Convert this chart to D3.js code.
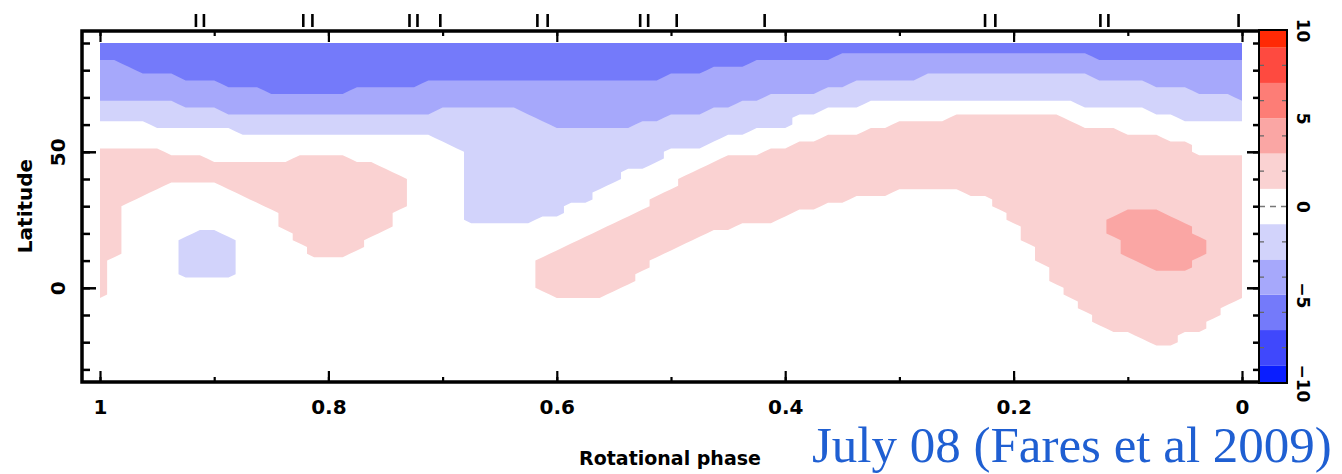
<!DOCTYPE html>
<html>
<head>
<meta charset="utf-8">
<script src="https://cdn.jsdelivr.net/npm/d3@7"></script>
<style>
  html, body { margin: 0; padding: 0; background: #fff; }
  svg { display: block; }
</style>
</head>
<body>
<script>
// grid columns (rotational phase) and rows (latitude)
var phases = [1, 0.9875, 0.975, 0.9625, 0.95, 0.9375, 0.925, 0.9125, 0.9, 0.8875, 0.875, 0.8625,
  0.85, 0.8375, 0.825, 0.8125, 0.8, 0.7875, 0.775, 0.7625, 0.75, 0.7375, 0.725, 0.7125, 0.7,
  0.6875, 0.675, 0.6625, 0.65, 0.6375, 0.625, 0.6125, 0.6, 0.5875, 0.575, 0.5625, 0.55, 0.5375,
  0.525, 0.5125, 0.5, 0.4875, 0.475, 0.4625, 0.45, 0.4375, 0.425, 0.4125, 0.4, 0.3875, 0.375,
  0.3625, 0.35, 0.3375, 0.325, 0.3125, 0.3, 0.2875, 0.275, 0.2625, 0.25, 0.2375, 0.225, 0.2125,
  0.2, 0.1875, 0.175, 0.1625, 0.15, 0.1375, 0.125, 0.1125, 0.1, 0.0875, 0.075, 0.0625, 0.05,
  0.0375, 0.025, 0.0125, 0];
var lats = [90, 87.5, 85, 82.5, 80, 77.5, 75, 72.5, 70, 67.5, 65, 62.5, 60, 57.5, 55, 52.5, 50,
  47.5, 45, 42.5, 40, 37.5, 35, 32.5, 30, 27.5, 25, 22.5, 20, 17.5, 15, 12.5, 10, 7.5, 5, 2.5, 0,
  -2.5, -5, -7.5, -10, -12.5, -15, -17.5, -20, -22.5, -25, -27.5, -30];

// field level per cell, one row per latitude, run-length coded (code + count)
var codeValue = {D: -6, M: -4, L: -2, ".": 0, p: 2, P: 4};
var bandRows = [
  "D81",
  "D81",
  "D52 M18 D11",
  "M2 D44 M35",
  "M3 D40 M38",
  "M6 D34 M18 L12 M11",
  "M9 D14 M30 L21 M7",
  "M12 D6 M33 L26 M4",
  "M47 L33 M1",
  "L6 M39 L9 .15 L12",
  "L9 M15 L6 M13 L8 .23 L7",
  "L31 M9 L9 .11 p8 .8 L5",
  ".4 L28 M6 L11 .7 p13 .12",
  ".10 L36 .8 p18 .9",
  ".24 L20 .7 p24 .6",
  ".25 L18 .6 p28 .4",
  "p5 .21 L14 .7 p30 .4",
  "p8 .6 p4 .8 L14 .4 p37",
  "p20 .6 L13 .4 p38",
  "p21 .5 L11 .5 p39",
  "p22 .4 L11 .4 p40",
  "p5 .4 p13 .4 L10 .5 p40",
  "p4 .6 p12 .4 L9 .5 p16 .5 p20",
  "p3 .8 p11 .4 L9 .4 p14 .10 p18",
  "p2 .10 p10 .4 L7 .6 p12 .12 p18",
  "p2 .11 p8 .5 L7 .5 p11 .15 p8 P3 p6",
  "p2 .11 p8 .5 L5 .6 p11 .16 p7 P5 p5",
  "p2 .11 p8 .15 p9 .20 p6 P6 p4",
  "p2 .5 L2 .5 p6 .15 p8 .22 p6 P6 p4",
  "p2 .4 L4 .4 p5 .15 p8 .23 p7 P6 p3",
  "p2 .4 L4 .5 p4 .14 p8 .25 p6 P6 p3",
  "p2 .4 L4 .5 p3 .14 p8 .26 p6 P6 p3",
  "p1 .5 L4 .21 p8 .27 p7 P4 p4",
  "p1 .5 L4 .21 p8 .28 p7 P3 p4",
  "p1 .5 L4 .21 p7 .29 p14",
  "p1 .30 p7 .29 p14",
  "p1 .30 p6 .31 p13",
  "p1 .31 p4 .32 p13",
  ".69 p11 .1",
  ".69 p10 .2",
  ".70 p9 .2",
  ".70 p8 .3",
  ".71 p7 .3",
  ".73 p3 .5",
  ".74 p2 .5",
  ".81",
  ".81",
  ".81",
  ".81"
];

var levelEdges = [-5, -3, -1, 1, 3];
var levelColors = ["#747afa", "#a6a8fb", "#d2d3fb", "#ffffff", "#fad2d2", "#faa6a4"];

var cbEdges = [-10, -9, -7, -5, -3, -1, 1, 3, 5, 7, 9, 10];
var cbColors = ["#0a1eff", "#4048fc", "#747afa", "#a6a8fb", "#d2d3fb", "#ffffff",
  "#fad2d2", "#faa6a4", "#fd7d76", "#fe4a40", "#ff2a05"];
var cbLabels = [-10, -5, 0, 5, 10];
var cbDashes = [-8, -6, -4, -2, 2, 4, 6, 8];

var phaseTicks = [0, 0.1, 0.2, 0.3, 0.4, 0.5, 0.6, 0.7, 0.8, 0.9, 1];
var phaseLabels = [0, 0.2, 0.4, 0.6, 0.8, 1];
var latTicks = [-30, -20, -10, 0, 10, 20, 30, 40, 50, 60, 70, 80, 90];
var latLabels = [0, 50];

// phases of the observations (marks above the frame)
var obsPhases = [0.916, 0.909, 0.822, 0.814, 0.729, 0.722, 0.702, 0.617, 0.608, 0.527,
  0.520, 0.495, 0.418, 0.225, 0.216, 0.124, 0.117, 0.003];

var width = 1342, height = 474;
var font = "'DejaVu Sans', 'Liberation Sans', sans-serif";

var svg = d3.select("body").append("svg")
    .attr("width", width)
    .attr("height", height);

var x = d3.scaleLinear().domain([1, 0]).range([100, 1242]),
    y = d3.scaleLinear().domain([90, -30]).range([43, 369.4]),
    cy = d3.scaleLinear().domain([-10, 10]).range([383, 30]);

var frame = {left: 82, top: 31, right: 1259, bottom: 382};

// decode the grid
var nx = phases.length, ny = lats.length;
var grid = [];
bandRows.forEach(function(row) {
  row.split(" ").forEach(function(tok) {
    var v = codeValue[tok[0]], n = +tok.slice(1);
    for (var k = 0; k < n; k++) grid.push(v);
  });
});

var colPhase = d3.scaleLinear().domain([0.5, nx - 0.5]).range([phases[0], phases[nx - 1]]);
var rowLat = d3.scaleLinear().domain([0.5, ny - 0.5]).range([lats[0], lats[ny - 1]]);
var path = d3.geoPath(d3.geoTransform({
  point: function(px, py) { this.stream.point(x(colPhase(px)), y(rowLat(py))); }
}));
var bands = d3.contours().size([nx, ny]).thresholds(levelEdges)(grid);

// data box on whole pixels so the layers do not leave a seam at its edge
var box = {
  x: Math.round(x(phases[0])), y: Math.round(y(lats[0])),
  x1: Math.round(x(phases[nx - 1])), y1: Math.round(y(lats[ny - 1]))
};
svg.append("defs").append("clipPath").attr("id", "clip")
  .append("rect")
    .attr("x", box.x).attr("y", box.y)
    .attr("width", box.x1 - box.x).attr("height", box.y1 - box.y);

var plot = svg.append("g").attr("clip-path", "url(#clip)");
plot.append("rect")
    .attr("x", box.x).attr("y", box.y)
    .attr("width", box.x1 - box.x).attr("height", y(60) - box.y)
    .attr("fill", levelColors[0]);
plot.selectAll("path.band")
    .data(bands)
  .enter().append("path")
    .attr("class", "band")
    .attr("d", path)
    .attr("fill", function(d, i) { return levelColors[i + 1]; });

// axes
function styleAxis(g, sw) {
  g.select(".domain").remove();
  g.selectAll(".tick line").attr("stroke", "#000").attr("stroke-width", sw);
  g.attr("font-family", font).attr("font-weight", "bold").attr("font-size", 20);
}

svg.append("g").attr("transform", "translate(0," + frame.bottom + ")")
    .call(d3.axisBottom(x).tickValues(phaseTicks).tickSize(-5).tickSizeOuter(0).tickFormat(""))
    .call(styleAxis, 2.2);
svg.append("g").attr("transform", "translate(0," + frame.bottom + ")")
    .call(d3.axisBottom(x).tickValues(phaseLabels).tickSize(-11).tickSizeOuter(0)
      .tickPadding(18).tickFormat(d3.format("")))
    .call(styleAxis, 2.2);

svg.append("g").attr("transform", "translate(0," + frame.top + ")")
    .call(d3.axisTop(x).tickValues(phaseTicks).tickSize(-5).tickSizeOuter(0).tickFormat(""))
    .call(styleAxis, 2.2);
svg.append("g").attr("transform", "translate(0," + frame.top + ")")
    .call(d3.axisTop(x).tickValues(phaseLabels).tickSize(-11).tickSizeOuter(0).tickFormat(""))
    .call(styleAxis, 2.2);

svg.append("g").attr("transform", "translate(" + frame.left + ",0)")
    .call(d3.axisLeft(y).tickValues(latTicks).tickSize(-8).tickSizeOuter(0).tickFormat(""))
    .call(styleAxis, 2.5);
var yLab = svg.append("g").attr("transform", "translate(" + frame.left + ",0)")
    .call(d3.axisLeft(y).tickValues(latLabels).tickSize(-14).tickSizeOuter(0).tickFormat(d3.format("")))
    .call(styleAxis, 2.5);
yLab.selectAll(".tick text")
    .attr("x", null).attr("dy", null)
    .attr("text-anchor", "middle")
    .attr("transform", "translate(-17,0) rotate(-90)");

svg.append("g").attr("transform", "translate(" + frame.right + ",0)")
    .call(d3.axisRight(y).tickValues(latTicks).tickSize(-6).tickSizeOuter(0).tickFormat(""))
    .call(styleAxis, 2.5);
svg.append("g").attr("transform", "translate(" + frame.right + ",0)")
    .call(d3.axisRight(y).tickValues(latLabels).tickSize(-12).tickSizeOuter(0).tickFormat(""))
    .call(styleAxis, 2.5);

// frame
svg.append("path")
    .attr("d", "M" + frame.right + "," + frame.top + "H" + frame.left + "V" + frame.bottom + "H" + frame.right)
    .attr("fill", "none")
    .attr("stroke", "#000")
    .attr("stroke-width", 3.5);

// observation phases
svg.append("g").selectAll("line")
    .data(obsPhases)
  .enter().append("line")
    .attr("x1", function(d) { return x(d); })
    .attr("x2", function(d) { return x(d); })
    .attr("y1", 14).attr("y2", 27)
    .attr("stroke", "#000")
    .attr("stroke-width", 2.6);

// colour bar
var cbX = 1259, cbW = 28;
var cb = svg.append("g");
cb.selectAll("rect")
    .data(cbColors)
  .enter().append("rect")
    .attr("x", cbX)
    .attr("y", function(d, i) { return cy(cbEdges[i + 1]); })
    .attr("width", cbW)
    .attr("height", function(d, i) { return cy(cbEdges[i]) - cy(cbEdges[i + 1]); })
    .attr("fill", function(d) { return d; });
cb.selectAll("path.dash")
    .data(cbDashes)
  .enter().append("path")
    .attr("class", "dash")
    .attr("d", function(d) {
      var yy = cy(d);
      return "M" + cbX + "," + yy + "h5M" + (cbX + cbW - 5) + "," + yy + "h5";
    })
    .attr("stroke", "#666")
    .attr("stroke-width", 1.3);
cb.append("line")
    .attr("x1", cbX).attr("x2", cbX + cbW)
    .attr("y1", cy(0)).attr("y2", cy(0))
    .attr("stroke", "#777")
    .attr("stroke-width", 1.5)
    .attr("stroke-dasharray", "6,5");
cb.append("rect")
    .attr("x", cbX).attr("y", cy(10))
    .attr("width", cbW).attr("height", cy(-10) - cy(10))
    .attr("fill", "none")
    .attr("stroke", "#000")
    .attr("stroke-width", 2);

var cbAxis = svg.append("g").attr("transform", "translate(" + (cbX + cbW) + ",0)")
    .call(d3.axisRight(cy).tickValues(cbLabels).tickSize(0).tickSizeOuter(0)
      .tickFormat(function(d) { return d < 0 ? "\u2212" + (-d) : d; }))
    .call(styleAxis, 0);
cbAxis.attr("font-size", 17);
cbAxis.selectAll(".tick text")
    .attr("x", null).attr("dy", null)
    .attr("text-anchor", "middle")
    .attr("transform", "translate(10,0) rotate(90)");

// titles
svg.append("text")
    .attr("transform", "translate(32,206) rotate(-90)")
    .attr("text-anchor", "middle")
    .attr("font-family", font)
    .attr("font-weight", "bold")
    .attr("font-size", 20)
    .text("Latitude");

svg.append("text")
    .attr("x", 670).attr("y", 465)
    .attr("text-anchor", "middle")
    .attr("font-family", font)
    .attr("font-weight", "bold")
    .attr("font-size", 19)
    .text("Rotational phase");

svg.append("text")
    .attr("x", 812).attr("y", 462)
    .attr("font-family", "'Liberation Serif', 'DejaVu Serif', serif")
    .attr("font-size", 51)
    .attr("fill", "#1f5fd2")
    .text("July 08 (Fares et al 2009)");
</script>
</body>
</html>
